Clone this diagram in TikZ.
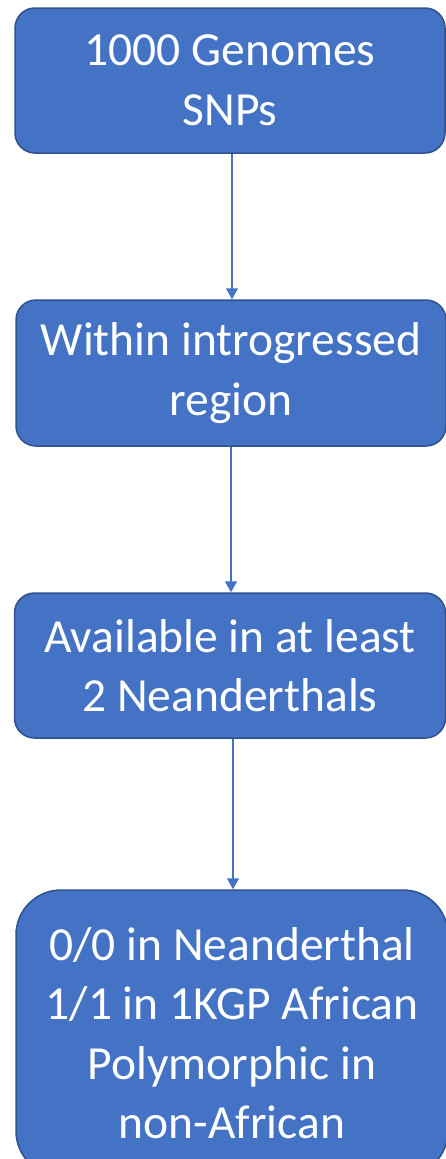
\documentclass[tikz,border=0pt]{standalone}
\usepackage{fontspec}
\setmainfont{Carlito}
\usetikzlibrary{arrows.meta}
\definecolor{boxfill}{HTML}{4472C4}
\definecolor{boxline}{HTML}{2F528F}
\tikzset{
  stepbox/.style={draw=boxline, line width=1.5pt, fill=boxfill, text=white,
    rounded corners=20pt, align=center, inner sep=0pt,
    font=\fontsize{47.5}{59.5}\selectfont},
  flow/.style={draw=boxfill, line width=1.5pt, -{Triangle[width=12pt,length=11pt]}}
}
\begin{document}
\begin{tikzpicture}[x=1pt,y=-1pt]
\useasboundingbox (0,0) rectangle (445,1159);
\fill[white] (0,0) rectangle (445,1159);
\node[stepbox, minimum width=430pt, minimum height=145pt] (n1) at (230,80.5) {1000 Genomes\\SNPs};
\node[stepbox, minimum width=430pt, minimum height=146pt] (n2) at (231,373) {Within introgressed\\region};
\node[stepbox, minimum width=431pt, minimum height=145pt] (n3) at (230,665.5) {Available in at least\\2 Neanderthals};
\node[stepbox, rounded corners=45pt, minimum width=432pt, minimum height=286pt] (n4) at (232,1033) {0/0 in Neanderthal\\1/1 in 1KGP African\\Polymorphic in\\non-African};
\draw[flow] ([xshift=2pt]n1.south) -- ([xshift=1pt]n2.north);
\draw[flow] ([xshift=0pt]n2.south) -- ([xshift=1pt]n3.north);
\draw[flow] ([xshift=3pt]n3.south) -- ([xshift=1pt]n4.north);
\end{tikzpicture}
\end{document}
